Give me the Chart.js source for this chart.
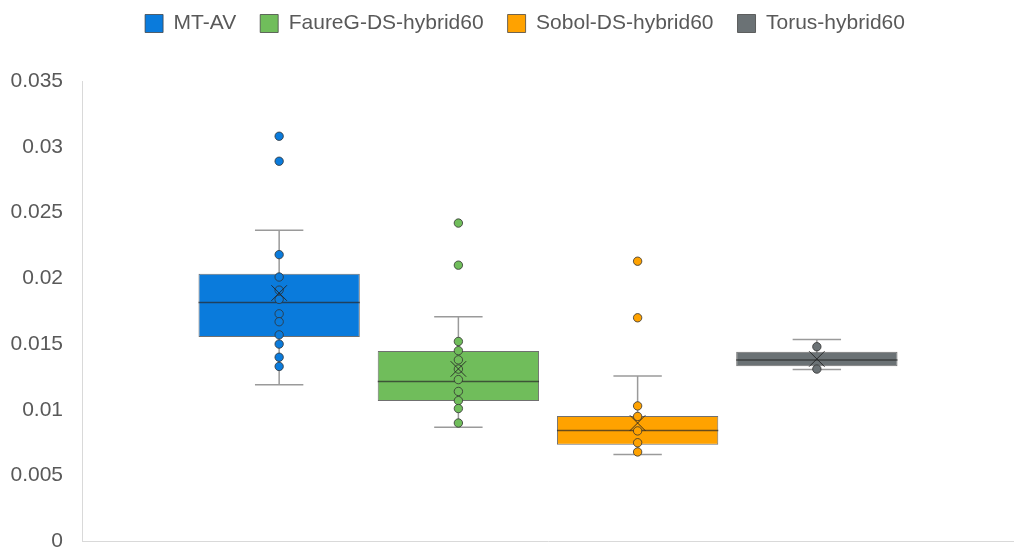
<!DOCTYPE html>
<html>
<head>
<meta charset="utf-8">
<script src="https://cdn.jsdelivr.net/npm/chart.js@4/dist/chart.umd.min.js"></script>
<style>
  html, body { margin: 0; padding: 0; background: #ffffff; overflow: hidden; }
  #wrap { width: 1051px; height: 573px; }
</style>
</head>
<body>
<div id="wrap"><canvas id="c" width="1051" height="573"></canvas></div>
<script>
// Series names and colours
const seriesNames = ['MT-AV', 'FaureG-DS-hybrid60', 'Sobol-DS-hybrid60', 'Torus-hybrid60'];
const seriesColors = ['#0a7bdc', '#70bd5b', '#ffa200', '#6b7275'];

// Box statistics per series
const q1Values      = [0.01554, 0.01068, 0.00734, 0.01331];
const q3Values      = [0.02035, 0.01448, 0.00954, 0.01442];
const medianValues  = [0.01817, 0.01215, 0.00843, 0.01379];
const meanValues    = [0.01888, 0.01311, 0.00900, 0.01387];
const whiskerLow    = [0.01190, 0.00868, 0.00660, 0.01306];
const whiskerHigh   = [0.02366, 0.01708, 0.01258, 0.01534];

// Individual points (inner points and outliers)
const pointsMT     = [0.0308, 0.0289, 0.0218, 0.0201, 0.0191, 0.0184, 0.0173, 0.0167, 0.0157, 0.0150, 0.0140, 0.0133];
const pointsFaure  = [0.0242, 0.0210, 0.0152, 0.0145, 0.0138, 0.0131, 0.0123, 0.0114, 0.0107, 0.0101, 0.0090];
const pointsSobol  = [0.0213, 0.0170, 0.0103, 0.0095, 0.0084, 0.0075, 0.0068];
const pointsTorus  = [0.0148, 0.0131];
const pointSets = [pointsMT, pointsFaure, pointsSobol, pointsTorus];

// Y axis tick labels
const tickLabels = ['0', '0.005', '0.01', '0.015', '0.02', '0.025', '0.03', '0.035'];

const FONT = "'Liberation Sans', Arial, sans-serif";
const TEXT = '#595959';
const AXIS = '#d9d9d9';
const EDGE = 'rgba(64,64,64,0.75)';

const datasets = [];
seriesNames.forEach((name, i) => {
  datasets.push({
    type: 'bar',
    label: name,
    data: [{ x: i + 1, y: [q1Values[i], q3Values[i]] }],
    backgroundColor: seriesColors[i],
    borderColor: EDGE,
    borderWidth: 1,
    borderSkipped: false,
    grouped: false,
    categoryPercentage: 1,
    barPercentage: 0.9,
    order: 3,
    boxIndex: i
  });
});
seriesNames.forEach((name, i) => {
  datasets.push({
    type: 'scatter',
    label: name + ' points',
    data: pointSets[i].map(v => ({ x: i + 1, y: v })),
    backgroundColor: seriesColors[i],
    borderColor: 'rgba(50,50,50,0.8)',
    borderWidth: 1,
    pointRadius: 4.2,
    order: 1
  });
});
datasets.push({
  type: 'scatter',
  label: 'mean',
  data: meanValues.map((v, i) => ({ x: i + 1, y: v })),
  pointStyle: 'crossRot',
  pointRadius: 11,
  borderColor: 'rgba(30,30,30,0.85)',
  borderWidth: 1,
  order: 0
});

// Whiskers behind the boxes, median lines on top of them
const boxPlotParts = {
  id: 'boxPlotParts',
  beforeDatasetsDraw(chart) {
    const { ctx } = chart;
    const xs = chart.scales.x, ys = chart.scales.y;
    const unit = xs.getPixelForValue(2) - xs.getPixelForValue(1);
    const capHalf = unit * 0.135;
    ctx.save();
    ctx.strokeStyle = '#9a9a9a';
    ctx.lineWidth = 1.5;
    seriesNames.forEach((_, i) => {
      const cx = xs.getPixelForValue(i + 1);
      const yLo = ys.getPixelForValue(whiskerLow[i]);
      const yHi = ys.getPixelForValue(whiskerHigh[i]);
      ctx.beginPath();
      ctx.moveTo(cx, yLo); ctx.lineTo(cx, yHi);
      ctx.moveTo(cx - capHalf, yLo); ctx.lineTo(cx + capHalf, yLo);
      ctx.moveTo(cx - capHalf, yHi); ctx.lineTo(cx + capHalf, yHi);
      ctx.stroke();
    });
    ctx.restore();
  },
  afterDatasetDraw(chart, args) {
    const ds = chart.data.datasets[args.index];
    if (ds.type !== 'bar') return;
    const i = ds.boxIndex;
    const bar = args.meta.data[0];
    const { ctx } = chart;
    const y = chart.scales.y.getPixelForValue(medianValues[i]);
    const half = bar.width / 2;
    ctx.save();
    ctx.strokeStyle = 'rgba(40,40,40,0.7)';
    ctx.lineWidth = 1.5;
    ctx.beginPath();
    ctx.moveTo(bar.x - half, y);
    ctx.lineTo(bar.x + half, y);
    ctx.stroke();
    ctx.restore();
  }
};

// Legend block height and horizontal placement over the whole figure
const legendFit = {
  id: 'legendFit',
  afterInit(chart) {
    const lg = chart.legend;
    const fit = lg.fit;
    lg.fit = function () { fit.call(this); this.height = 92; };
  },
  afterLayout(chart) {
    const lg = chart.legend;
    lg.left += 15;
    lg.right += 15;
  }
};

new Chart(document.getElementById('c'), {
  type: 'bar',
  data: { datasets },
  plugins: [boxPlotParts, legendFit],
  options: {
    responsive: false,
    animation: false,
    layout: { padding: { top: -11, left: 6, right: 37, bottom: 0 } },
    plugins: {
      tooltip: { enabled: false },
      legend: {
        position: 'top',
        labels: {
          filter: item => item.datasetIndex < seriesNames.length,
          boxWidth: 18,
          boxHeight: 18,
          padding: 24,
          color: TEXT,
          font: { family: FONT, size: 21 }
        }
      }
    },
    scales: {
      x: {
        type: 'linear',
        min: -0.1,
        max: 5.1,
        offset: false,
        grid: { display: false, drawTicks: false },
        ticks: { display: false },
        border: { display: true, color: AXIS, width: 1 }
      },
      y: {
        min: 0,
        max: 0.035,
        afterFit: (scale) => { scale.width = 76; },
        grid: { display: false, drawTicks: false },
        border: { display: true, color: AXIS, width: 1 },
        ticks: {
          stepSize: 0.005,
          padding: 19,
          color: TEXT,
          font: { family: FONT, size: 21 },
          callback: (v) => tickLabels[Math.round(v / 0.005)]
        }
      }
    }
  }
});
</script>
</body>
</html>
